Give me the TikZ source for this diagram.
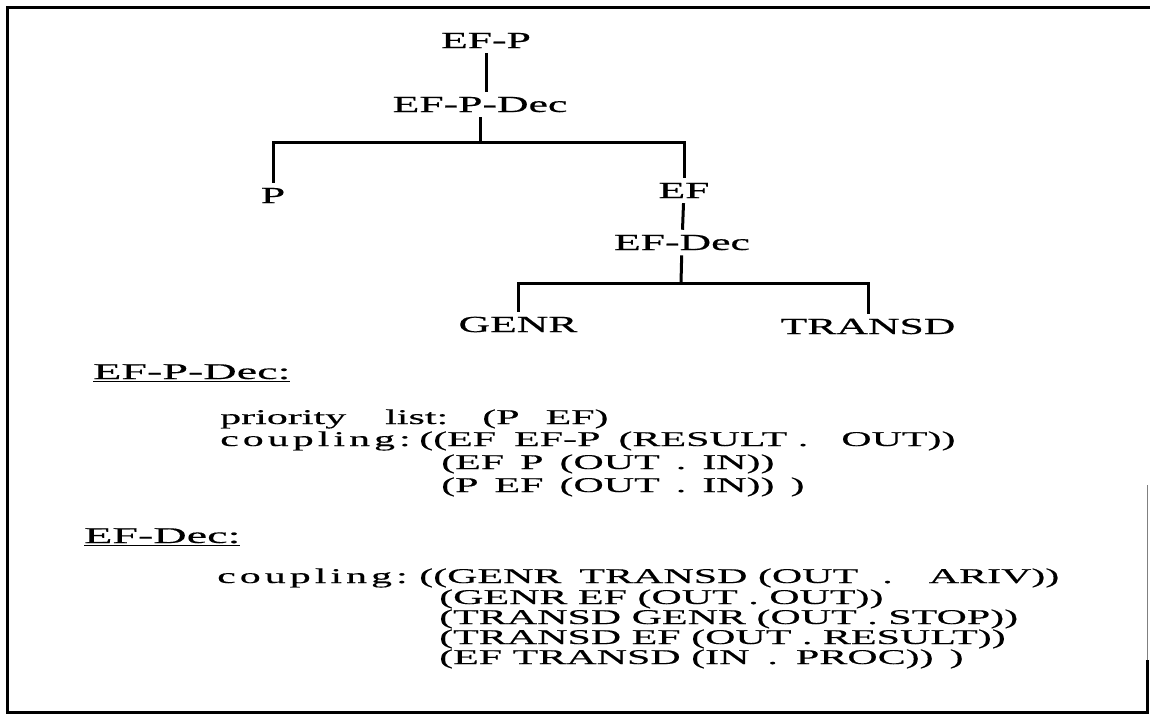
\documentclass[tikz,border=0pt]{standalone}
\usepackage{fontspec}
\setmainfont{Liberation Serif}[FakeStretch=1.9, FakeBold=0.6]
\newfontfamily\headfont{Liberation Serif}[FakeStretch=2.05, FakeBold=0.4]
\newfontfamily\codefont{Liberation Serif}[FakeStretch=2, FakeBold=0.4]
\newfontfamily\spacedfont{Liberation Serif}[FakeStretch=2, FakeBold=0.4, LetterSpace=19]
\usetikzlibrary{positioning}

\begin{document}
\begin{tikzpicture}[
  x=1pt, y=-1pt,
  tree/.style={font=\fontsize{23}{26}\selectfont, inner xsep=0pt,
               inner ysep=5pt, anchor=base},
  head/.style={font=\fontsize{22.5}{24}\selectfont\headfont, inner sep=0pt,
               anchor=base west},
  code/.style={font=\fontsize{21}{24}\selectfont\codefont, inner sep=0pt,
               anchor=base west},
  link/.style={line width=3pt},
  frame/.style={line width=3pt}
]
\useasboundingbox (0,0) rectangle (1150,715);
\draw[frame] (1150,7) -- (7,7) -- (7,712) -- (1147,712) -- (1147,660);
\draw[line width=1pt, gray] (1147,660) -- (1147,485);

% tree
\node[tree] (efp) at (486,48) {EF-P};
\node[tree] (efpdec) at (480,112) {EF-P-Dec};
\node[tree] (p) at (273,203) {P};
\node[tree] (ef) at (684,198) {EF};
\node[tree] (efdec) at (682,250) {EF-Dec};
\node[tree] (genr) at (518,332) {GENR};
\node[tree] (transd) at (868,334) {TRANSD};
\coordinate (j1) at (480,142);
\coordinate (j2) at (681,283);

\draw[link] (efp) -- (efp |- efpdec.north);
\draw[link] (efpdec) -- (j1);
\draw[link] (p) |- (j1) -| (ef);
\draw[link] (ef) -- (efdec);
\draw[link] (efdec) -- (j2);
\draw[link] (genr) |- (j2) -| (transd);

% EF-P-Dec
\node[head] (hdp) at (93,379) {\underline{EF-P-Dec:}};
\node[code] (prio) at (220,424) {priority\hspace{39pt}list:\hspace{34pt}(P\hspace{26pt}EF)};
\node[code] (cpl) at (220,446) {\spacedfont coupling:};
\node[code] (cpa) at ([xshift=8pt]cpl.base east) {((EF\hspace{18pt}EF-P\hspace{18pt}(RESULT .\hspace{33pt}OUT))};
\node[code] (cpb) at ([xshift=22pt, yshift=-23pt]cpa.base west) {(EF\hspace{16pt}P\hspace{16pt}(OUT\hspace{16pt}.\hspace{16pt}IN))};
\node[code] (cpc) at ([yshift=-23pt]cpb.base west) {(P\hspace{16pt}EF\hspace{16pt}(OUT\hspace{16pt}.\hspace{16pt}IN))\hspace{16pt})};

% EF-Dec
\node[head] (hdef) at (84,543) {\underline{EF-Dec:}};
\node[code] (cql) at (217,583) {\spacedfont coupling:};
\node[code] (cqa) at ([xshift=11pt]cql.base east) {((GENR\hspace{18pt}TRANSD (OUT\hspace{24pt}.\hspace{36pt}ARIV))};
\node[code] (cqb) at ([xshift=20pt, yshift=-21pt]cqa.base west) {(GENR EF (OUT . OUT))};
\node[code] (cqc) at ([yshift=-20pt]cqb.base west) {(TRANSD GENR (OUT . STOP))};
\node[code] (cqd) at ([yshift=-20pt]cqc.base west) {(TRANSD EF (OUT . RESULT))};
\node[code] (cqe) at ([yshift=-20pt]cqd.base west) {(EF TRANSD (IN\hspace{18pt}.\hspace{18pt}PROC))\hspace{16pt})};
\end{tikzpicture}
\end{document}
